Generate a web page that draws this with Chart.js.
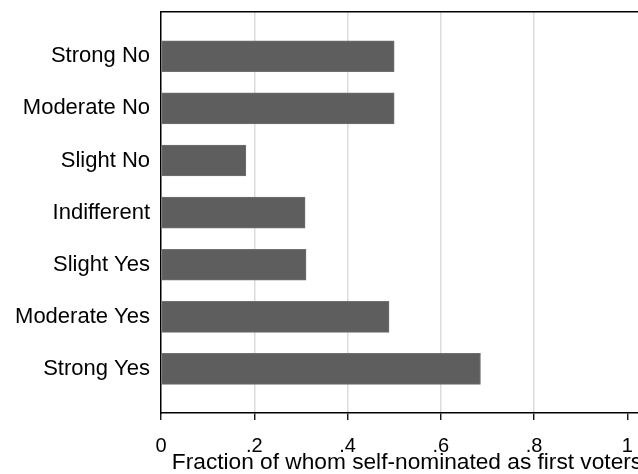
<!DOCTYPE html>
<html>
<head>
<meta charset="utf-8">
<script src="https://cdn.jsdelivr.net/npm/chart.js@4/dist/chart.umd.min.js"></script>
<style>
  html, body { margin: 0; padding: 0; background: #ffffff; overflow: hidden; }
  #wrap { width: 638px; height: 474px; overflow: hidden; }
  canvas { display: block; }
</style>
</head>
<body>
<div id="wrap"><canvas id="c" width="653" height="474"></canvas></div>
<script>
// Response categories, top to bottom
const categories = ['Strong No', 'Moderate No', 'Slight No', 'Indifferent', 'Slight Yes', 'Moderate Yes', 'Strong Yes'];
// Fraction who self-nominated as first voters
const fractions = [0.500, 0.500, 0.182, 0.309, 0.311, 0.489, 0.685];
// Value axis ticks and their labels
const xTickValues = [0, 0.2, 0.4, 0.6, 0.8, 1];
const xTickLabels = ['0', '.2', '.4', '.6', '.8', '1'];
const xTitle = 'Fraction of whom self-nominated as first voters';

const FONT = '"Liberation Sans", Arial, Helvetica, sans-serif';

const points = categories.map((c, i) => ({ x: fractions[i], y: i }));

// keep the plot frame fixed: no extra room reserved for edge labels
const noEdgePadding = s => {
  s.paddingTop = 0; s.paddingBottom = 0; s.paddingLeft = 0; s.paddingRight = 0;
};

new Chart(document.getElementById('c'), {
  type: 'bar',
  data: {
    datasets: [{
      data: points,
      backgroundColor: '#5e5e5e',
      borderColor: '#707070',
      borderWidth: 1,
      borderSkipped: false,
      barThickness: 31
    }]
  },
  options: {
    indexAxis: 'y',
    responsive: false,
    animation: false,
    layout: { padding: 0 },
    plugins: { legend: { display: false }, tooltip: { enabled: false } },
    scales: {
      x: {
        type: 'linear',
        position: 'bottom',
        min: 0,
        max: 1.055,
        afterBuildTicks: s => { s.ticks = xTickValues.map(v => ({ value: v })); },
        afterFit: s => { s.height = 61; noEdgePadding(s); },
        ticks: {
          color: '#000',
          font: { family: FONT, size: 20 },
          padding: 14,
          callback: (v) => xTickLabels[xTickValues.indexOf(v)] ?? ''
        },
        grid: {
          color: ctx => (ctx.tick && (ctx.tick.value === 0 || ctx.tick.value === 1)) ? 'rgba(0,0,0,0)' : '#dcdcdc',
          lineWidth: 1.5,
          drawTicks: true,
          tickLength: 7,
          tickColor: '#000',
          tickWidth: 1.3
        },
        border: { display: true, color: '#000', width: 1.5 },
        title: {
          display: true,
          text: xTitle,
          color: '#000',
          font: { family: FONT, size: 22.7, lineHeight: 1.0 },
          padding: { top: 0, bottom: 0 }
        }
      },
      xTop: {
        type: 'linear',
        position: 'top',
        min: 0,
        max: 1.055,
        afterFit: s => { s.height = 12; noEdgePadding(s); },
        ticks: { display: false },
        grid: { display: false, drawTicks: false },
        border: { display: true, color: '#000', width: 1.5 }
      },
      y: {
        type: 'linear',
        reverse: true,
        offset: false,
        min: -0.85,
        max: 6.846,
        afterBuildTicks: s => { s.ticks = categories.map((c, i) => ({ value: i })); },
        afterFit: s => { s.width = 161; noEdgePadding(s); },
        ticks: {
          color: '#000',
          font: { family: FONT, size: 22 },
          padding: 11,
          callback: (v) => categories[v] ?? ''
        },
        grid: { display: false, drawTicks: false },
        border: { display: true, color: '#000', width: 1.5 }
      }
    }
  }
});
</script>
</body>
</html>
